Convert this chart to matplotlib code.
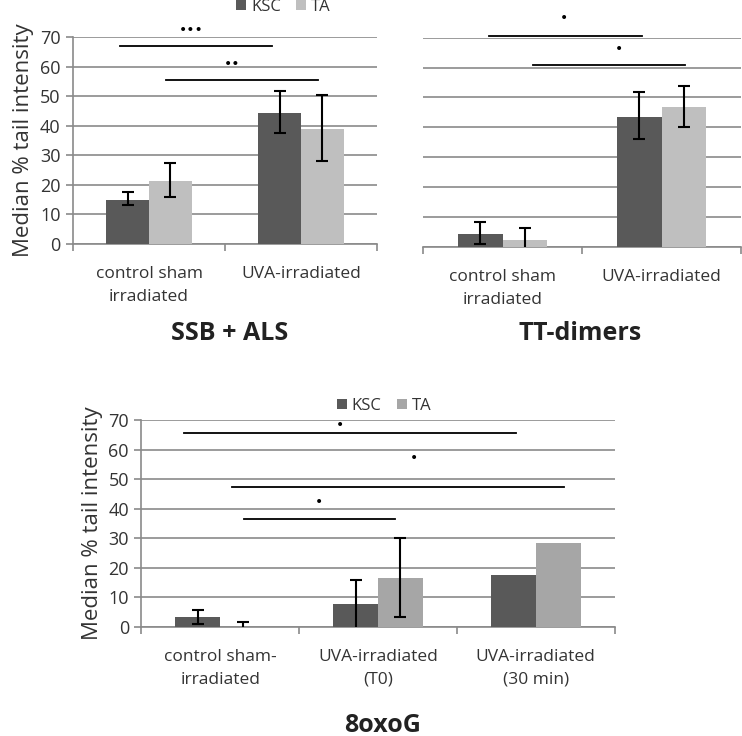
import matplotlib
matplotlib.use("Agg")
import matplotlib.pyplot as plt
import numpy as np

plt.rcParams['font.family'] = ['Open Sans', 'DejaVu Sans']

series = ["KSC", "TA"]

# Panel 1: SSB + ALS
p1_cats = ["control sham\nirradiated", "UVA-irradiated"]
p1_ksc = [15.0, 44.3]
p1_ksc_lo = [13.3, 37.5]
p1_ksc_hi = [17.5, 51.6]
p1_ta = [21.2, 39.0]
p1_ta_lo = [16.0, 28.0]
p1_ta_hi = [27.3, 50.5]
p1_title = "SSB + ALS"
p1_sig = ["•••", "••"]
p1_sig_y = [67.0, 55.4]

# Panel 2: TT-dimers
p2_cats = ["control sham\nirradiated", "UVA-irradiated"]
p2_ksc = [4.2, 43.5]
p2_ksc_lo = [0.9, 36.0]
p2_ksc_hi = [8.3, 52.0]
p2_ta = [2.3, 46.7]
p2_ta_lo = [-1.5, 40.2]
p2_ta_hi = [6.3, 54.0]
p2_title = "TT-dimers"
p2_sig = ["•", "•"]
p2_sig_y = [70.5, 60.8]

# Panel 3: 8oxoG
p3_cats = ["control sham-\nirradiated", "UVA-irradiated\n(T0)", "UVA-irradiated\n(30 min)"]
p3_ksc = [3.5, 7.9, 17.6]
p3_ksc_lo = [1.0, -1.5, np.nan]
p3_ksc_hi = [5.9, 15.8, np.nan]
p3_ta = [0.0, 16.6, 28.4]
p3_ta_lo = [-1.5, 3.3, np.nan]
p3_ta_hi = [1.6, 30.2, np.nan]
p3_title = "8oxoG"
p3_sig = ["•", "•", "•"]
p3_sig_y = [65.5, 47.4, 36.6]

yticks = [0, 10, 20, 30, 40, 50, 60, 70]

KSC_COL = "#595959"
GRID_COL = "#8a8a8a"
TXT_COL = "#333333"

fig = plt.figure(figsize=(7.42, 7.36), dpi=100)


def panel(rect, cats, ksc, klo, khi, ta, tlo, thi, ta_col, sig, sig_y, sig_geom, show_y, bw):
    ax = fig.add_axes(rect)
    n = len(cats)
    x = np.arange(n)
    b1 = ax.bar(x - bw / 2, ksc, bw, color=KSC_COL, zorder=3, label=series[0])
    b2 = ax.bar(x + bw / 2, ta, bw, color=ta_col, zorder=3, label=series[1])
    for xs, v, lo, hi in ((x - bw / 2, ksc, klo, khi), (x + bw / 2, ta, tlo, thi)):
        v = np.array(v, float)
        lo = np.array(lo, float)
        hi = np.array(hi, float)
        ax.errorbar(xs, v, yerr=[v - lo, hi - v], fmt="none", ecolor="black",
                    elinewidth=1.5, capsize=4, capthick=1.5, zorder=4)
    ax.set_xlim(-0.5, n - 0.5)
    ax.set_ylim(0, 70)
    ax.set_yticks(yticks)
    ax.yaxis.grid(True, color=GRID_COL, lw=1.2, zorder=0)
    ax.set_axisbelow(True)
    for s in ("top", "right"):
        ax.spines[s].set_visible(False)
    ax.spines["bottom"].set_color(GRID_COL)
    ax.spines["bottom"].set_linewidth(1.2)
    ax.spines["left"].set_color(GRID_COL)
    ax.spines["left"].set_linewidth(1.2)
    ax.set_xticks(x)
    ax.set_xticklabels(cats, fontsize=12.5, color=TXT_COL, linespacing=1.55)
    ax.tick_params(axis="x", length=0, pad=16)
    ax.set_xticks(np.arange(n + 1) - 0.5, minor=True)
    ax.tick_params(axis="x", which="minor", length=5, color=GRID_COL, width=1.2)
    if show_y:
        ax.set_yticklabels([str(t) for t in yticks], fontsize=13, color=TXT_COL)
        ax.tick_params(axis="y", length=5, color=GRID_COL, width=1.2, pad=4)
        ax.set_ylabel("Median % tail intensity", fontsize=16, color=TXT_COL, labelpad=4)
    else:
        ax.spines["left"].set_visible(False)
        ax.set_yticklabels([])
        ax.tick_params(axis="y", length=0)
    for lab, yv, (x0, x1, sx, sy) in zip(sig, sig_y, sig_geom):
        ax.plot([x0, x1], [yv, yv], color="black", lw=1.3, zorder=5, clip_on=False)
        ax.text(sx, sy, lab, ha="center", va="center", fontsize=10, color="black",
                family="DejaVu Sans", clip_on=False)
    return ax, b1, b2


# panel 1
ax1, h1, h2 = panel([0.0984, 0.6685, 0.4097, 0.2812], p1_cats, p1_ksc, p1_ksc_lo, p1_ksc_hi,
                    p1_ta, p1_ta_lo, p1_ta_hi, "#bfbfbf", p1_sig, p1_sig_y,
                    [(-0.19, 0.81, 0.28, 72.5), (0.11, 1.11, 0.55, 61.0)], True, 0.28)
ax1.legend([h1, h2], series, loc="center", bbox_to_anchor=(0.382, 0.991),
           bbox_transform=fig.transFigure, ncol=2, frameon=False, fontsize=12,
           handlelength=0.6, handleheight=0.6, handletextpad=0.3, columnspacing=0.9,
           labelcolor=TXT_COL)
fig.text(230 / 742, 1 - 333 / 736, p1_title, ha="center", va="center", fontsize=18,
         fontweight="bold", color="#222222")

# panel 2
ax2, _, _ = panel([0.570, 0.6644, 0.429, 0.2844], p2_cats, p2_ksc, p2_ksc_lo, p2_ksc_hi,
                  p2_ta, p2_ta_lo, p2_ta_hi, "#bfbfbf", p2_sig, p2_sig_y,
                  [(-0.085, 0.877, 0.387, 76.5), (0.19, 1.148, 0.733, 66.3)], False, 0.28)
fig.text(580 / 742, 1 - 333 / 736, p2_title, ha="center", va="center", fontsize=18,
         fontweight="bold", color="#222222")

# panel 3
ax3, g1, g2 = panel([0.1906, 1 - 627 / 736, 0.6377, 207 / 736], p3_cats, p3_ksc, p3_ksc_lo,
                    p3_ksc_hi, p3_ta, p3_ta_lo, p3_ta_hi, "#a6a6a6", p3_sig, p3_sig_y,
                    [(-0.228, 1.876, 0.756, 68.4), (0.077, 2.18, 1.231, 57.0),
                     (0.152, 1.109, 0.627, 42.2)],
                    True, 0.285)
ax3.legend([g1, g2], series, loc="center", bbox_to_anchor=(384 / 742, 1 - 406 / 736),
           bbox_transform=fig.transFigure, ncol=2, frameon=False, fontsize=12,
           handlelength=0.6, handleheight=0.6, handletextpad=0.3, columnspacing=0.9,
           labelcolor=TXT_COL)
fig.text(383 / 742, 1 - 725 / 736, p3_title, ha="center", va="center", fontsize=18,
         fontweight="bold", color="#222222")

fig.savefig("out.png", dpi=100)
